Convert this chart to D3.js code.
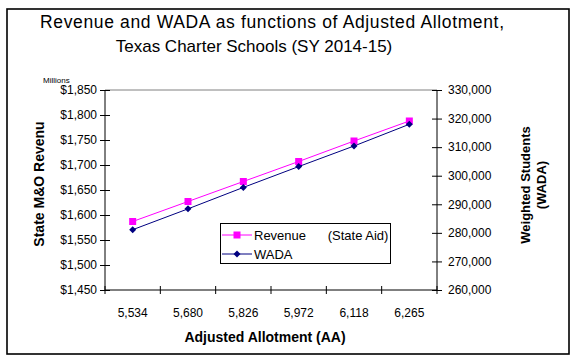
<!DOCTYPE html>
<html>
<head>
<meta charset="utf-8">
<script src="https://cdn.jsdelivr.net/npm/d3@7"></script>
<style>
  html, body { margin: 0; padding: 0; background: #fff; }
  svg { display: block; font-family: "Liberation Sans", Arial, sans-serif; }
</style>
</head>
<body>
<svg id="chart" width="576" height="360"></svg>
<script>
// ---- data ----
const categories = ["5,534", "5,680", "5,826", "5,972", "6,118", "6,265"];
const revenue = [1587, 1627, 1667, 1707, 1748, 1788];          // $ millions
const wada = [281100, 288400, 295900, 303200, 310400, 318000];  // students
const leftTicks = [1450, 1500, 1550, 1600, 1650, 1700, 1750, 1800, 1850];
const rightTicks = [260000, 270000, 280000, 290000, 300000, 310000, 320000, 330000];
const titleLines = ["Revenue and WADA as functions of Adjusted Allotment,", "Texas Charter Schools (SY 2014-15)"];
const legendLabels = ["Revenue      (State Aid)", "WADA"];

const svg = d3.select("#chart");
const L = 105, R = 437, T = 90, B = 290;

// outer border
svg.append("rect").attr("x", 7).attr("y", 9).attr("width", 562).attr("height", 345)
  .attr("fill", "none").attr("stroke", "#000").attr("stroke-width", 1.6);

// titles
svg.append("text").attr("x", 272).attr("y", 28).attr("text-anchor", "middle")
  .attr("font-size", 17.5).attr("textLength", 464).attr("lengthAdjust", "spacing").text(titleLines[0]);
svg.append("text").attr("x", 254).attr("y", 52).attr("text-anchor", "middle")
  .attr("font-size", 17).text(titleLines[1]);

// scales
const x = d3.scaleBand().domain(categories).range([L, R]).padding(0);
const xc = c => x(c) + x.bandwidth() / 2;
const yL = d3.scaleLinear().domain([1450, 1850]).range([B, T]);
const yR = d3.scaleLinear().domain([260000, 330000]).range([B, T]);

// plot area top border (gray)
svg.append("line").attr("x1", L).attr("x2", R).attr("y1", T).attr("y2", T)
  .attr("stroke", "#808080").attr("stroke-width", 1);

// left axis
const gL = svg.append("g").attr("transform", `translate(${L},0)`)
  .call(d3.axisLeft(yL).tickValues(leftTicks).tickSize(5).tickPadding(3)
    .tickFormat(d => "$" + d3.format(",")(d)));
gL.selectAll(".tick line").attr("x1", 5);
gL.select(".domain").attr("d", `M0,${T}V${B}`);

// right axis
const gR = svg.append("g").attr("transform", `translate(${R},0)`)
  .call(d3.axisRight(yR).tickValues(rightTicks).tickSize(5).tickPadding(6)
    .tickFormat(d3.format(",")));
gR.selectAll(".tick line").attr("x1", -5);
gR.select(".domain").attr("d", `M0,${T}V${B}`);

// bottom axis
const gB = svg.append("g").attr("transform", `translate(0,${B})`)
  .call(d3.axisBottom(x).tickSize(0).tickPadding(0).tickFormat(""));
gB.select(".domain").attr("d", `M${L},0H${R}`);
const bounds = categories.map(c => x(c)).concat([R]);
gB.selectAll("line.bt").data(bounds).enter().append("line").attr("class", "bt")
  .attr("x1", d => d).attr("x2", d => d).attr("y1", -4).attr("y2", 4).attr("stroke", "#000");
svg.selectAll("text.xl").data(categories).enter().append("text").attr("class", "xl")
  .attr("x", d => xc(d)).attr("y", 317).attr("text-anchor", "middle")
  .attr("font-size", 12).text(d => d);

[gL, gR].forEach(g => {
  g.selectAll("text").attr("font-size", 12).attr("font-family", "'Liberation Sans', Arial, sans-serif").attr("fill", "#000");
  g.selectAll("line, path").attr("stroke", "#000");
});

// axis titles
svg.append("text").attr("x", 265).attr("y", 342).attr("text-anchor", "middle")
  .attr("font-size", 14).attr("font-weight", "bold").text("Adjusted Allotment (AA)");
svg.append("text").attr("transform", "translate(44,184) rotate(-90)").attr("text-anchor", "middle")
  .attr("font-size", 14).attr("font-weight", "bold").text("State M&O Revenu");
svg.append("text").attr("transform", "translate(530,185) rotate(-90)").attr("text-anchor", "middle")
  .attr("font-size", 13).attr("font-weight", "bold").text("Weighted Students");
svg.append("text").attr("transform", "translate(546,185) rotate(-90)").attr("text-anchor", "middle")
  .attr("font-size", 13).attr("font-weight", "bold").text("(WADA)");
svg.append("text").attr("x", 43).attr("y", 83).attr("font-size", 8).text("Millions");

// series
const revColor = "#FF00FF", wadaColor = "#000080";
const revLine = d3.line().x((d, i) => xc(categories[i])).y(d => yL(d));
const wadaLine = d3.line().x((d, i) => xc(categories[i])).y(d => yR(d));
svg.append("path").datum(revenue).attr("d", revLine).attr("fill", "none").attr("stroke", revColor).attr("stroke-width", 1);
svg.append("path").datum(wada).attr("d", wadaLine).attr("fill", "none").attr("stroke", wadaColor).attr("stroke-width", 1);
svg.selectAll("rect.rm").data(revenue).enter().append("rect").attr("class", "rm")
  .attr("x", (d, i) => xc(categories[i]) - 3.5).attr("y", d => yL(d) - 3.5)
  .attr("width", 7).attr("height", 7).attr("fill", revColor);
const diamond = (cx, cy, r) => `M${cx},${cy - r}L${cx + r},${cy}L${cx},${cy + r}L${cx - r},${cy}Z`;
svg.selectAll("path.wm").data(wada).enter().append("path").attr("class", "wm")
  .attr("d", (d, i) => diamond(xc(categories[i]), yR(d), 3.5)).attr("fill", wadaColor);

// legend
const lg = svg.append("g");
lg.append("rect").attr("x", 220.5).attr("y", 223.5).attr("width", 170).attr("height", 40)
  .attr("fill", "#fff").attr("stroke", "#000");
const rows = [235, 254];
lg.append("line").attr("x1", 222).attr("x2", 252).attr("y1", rows[0]).attr("y2", rows[0]).attr("stroke", revColor);
lg.append("rect").attr("x", 233.5).attr("y", rows[0] - 3.5).attr("width", 7).attr("height", 7).attr("fill", revColor);
lg.append("line").attr("x1", 222).attr("x2", 252).attr("y1", rows[1]).attr("y2", rows[1]).attr("stroke", wadaColor);
lg.append("path").attr("d", diamond(237, rows[1], 3.5)).attr("fill", wadaColor);
lg.selectAll("text").data(legendLabels).enter().append("text")
  .attr("x", 254).attr("y", (d, i) => rows[i] + 4.5).attr("font-size", 13)
  .style("white-space", "pre").text(d => d);
</script>
</body>
</html>
